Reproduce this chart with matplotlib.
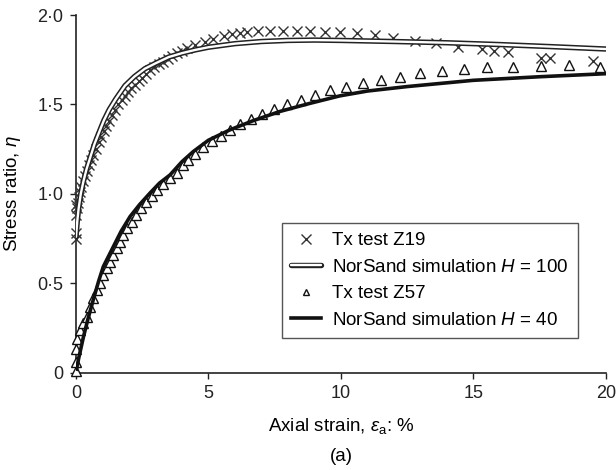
import matplotlib
matplotlib.use("Agg")
import matplotlib.pyplot as plt
from matplotlib.lines import Line2D
from matplotlib.legend_handler import HandlerTuple

plt.rcParams['font.family'] = ['Liberation Sans', 'DejaVu Sans']
plt.rcParams['mathtext.fontset'] = 'custom'
plt.rcParams['mathtext.rm'] = 'Liberation Sans'
plt.rcParams['mathtext.it'] = 'Liberation Sans:italic'

# Tx test Z19 (crosses)
z19_x = [0, 0, 0, 0, 0.03, 0.06, 0.1, 0.15, 0.2, 0.26, 0.33, 0.4, 0.48, 0.56,
         0.65, 0.75, 0.85, 0.95, 1.05, 1.15, 1.26, 1.37, 1.48, 1.6, 1.72, 1.84,
         1.96, 2.09, 2.22, 2.36, 2.5, 2.65, 2.8, 2.96, 3.12, 3.29, 3.46, 3.64,
         3.82, 4.0, 4.18, 4.49, 4.87, 5.19, 5.57, 5.88, 6.19, 6.44, 6.88, 7.32,
         7.82, 8.33, 8.83, 9.40, 9.96, 10.59, 11.28, 11.97, 12.79, 13.58, 14.43,
         15.31, 15.77, 16.31, 17.57, 17.89, 19.5]
z19_eta = [0.75, 0.78, 0.88, 0.94, 0.92, 0.95, 0.98, 1.01, 1.04, 1.07, 1.1, 1.13,
           1.16, 1.19, 1.22, 1.25, 1.29, 1.32, 1.35, 1.38, 1.41, 1.44, 1.47, 1.50,
           1.525, 1.55, 1.57, 1.59, 1.61, 1.63, 1.65, 1.67, 1.69, 1.71, 1.725,
           1.74, 1.755, 1.77, 1.785, 1.80, 1.815, 1.834, 1.852, 1.865, 1.884,
           1.893, 1.898, 1.905, 1.908, 1.908, 1.908, 1.908, 1.908, 1.906, 1.905,
           1.899, 1.886, 1.871, 1.856, 1.843, 1.824, 1.81, 1.80, 1.793, 1.759,
           1.759, 1.744]

# NorSand simulation H = 100
h100_x = [0, 0.05, 0.1, 0.18, 0.28, 0.4, 0.55, 0.7, 0.86, 1.05, 1.25, 1.5, 1.85,
          2.2, 2.6, 3.0, 3.5, 4.0, 4.5, 5, 6, 7, 8, 9, 10, 12, 14, 16, 18, 20]
h100_eta = [0.76, 0.85, 0.92, 1.0, 1.07, 1.14, 1.21, 1.28, 1.34, 1.41, 1.47,
            1.53, 1.605, 1.655, 1.70, 1.73, 1.765, 1.787, 1.805, 1.82, 1.84,
            1.852, 1.858, 1.86, 1.858, 1.852, 1.845, 1.835, 1.823, 1.81]

# Tx test Z57 (triangles)
z57_x = [0, 0, 0, 0.05, 0.15, 0.28, 0.4, 0.53, 0.65, 0.78, 0.91, 1.03, 1.16,
         1.28, 1.41, 1.53, 1.66, 1.79, 1.94, 2.1, 2.26, 2.44, 2.64, 2.86, 3.07,
         3.3, 3.55, 3.8, 4.05, 4.24, 4.49, 4.80, 5.12, 5.46, 5.81, 6.19, 6.60,
         7.03, 7.48, 7.95, 8.48, 9.02, 9.58, 10.19, 10.84, 11.5, 12.23, 12.98,
         13.8, 14.64, 15.5, 16.5, 17.54, 18.62, 19.8]
z57_eta = [0.01, 0.06, 0.13, 0.19, 0.24, 0.276, 0.313, 0.37, 0.416, 0.463, 0.5,
           0.547, 0.584, 0.621, 0.659, 0.696, 0.733, 0.77, 0.808, 0.845, 0.882,
           0.92, 0.957, 0.99, 1.022, 1.054, 1.088, 1.116, 1.16, 1.19, 1.225,
           1.261, 1.293, 1.326, 1.358, 1.39, 1.42, 1.448, 1.476, 1.504, 1.526,
           1.554, 1.58, 1.597, 1.619, 1.638, 1.656, 1.675, 1.688, 1.698, 1.707,
           1.712, 1.716, 1.718, 1.712]

# NorSand simulation H = 40
h40_x = [0.02, 0.1, 0.28, 0.45, 0.65, 0.85, 1.03, 1.41, 1.7, 2.04, 2.4, 2.79,
         3.15, 3.55, 4.0, 4.43, 5.0, 5.81, 6.7, 7.7, 8.8, 9.96, 11, 12.5, 15,
         17.5, 20]
h40_eta = [0.02, 0.08, 0.2, 0.3, 0.407, 0.51, 0.593, 0.705, 0.79, 0.873, 0.94,
           1.004, 1.06, 1.106, 1.18, 1.237, 1.30, 1.358, 1.41, 1.461, 1.505,
           1.548, 1.575, 1.60, 1.635, 1.655, 1.672]

xticks = [0, 5, 10, 15, 20]
yticks = [0, 0.5, 1.0, 1.5, 2.0]
ytick_labels = ['0', '0·5', '1·0', '1·5', '2·0']

fig = plt.figure(figsize=(6.16, 4.70), dpi=100)
ax = fig.add_axes([0.1234, 0.207, 0.860, 0.761])

ax.plot(z19_x, z19_eta, linestyle='none', marker='x', markersize=7,
        markeredgewidth=1.0, color='#333333', clip_on=False, zorder=3)
ax.plot(h100_x, h100_eta, color='#222222', linewidth=3.9,
        solid_capstyle='round', zorder=4)
ax.plot(h100_x, h100_eta, color='white', linewidth=1.7,
        solid_capstyle='round', zorder=5)
ax.plot(z57_x, z57_eta, linestyle='none', marker='^', markersize=6.5,
        markerfacecolor='white', markeredgecolor='#111111',
        markeredgewidth=1.0, clip_on=False, zorder=3)
ax.plot(h40_x, h40_eta, color='#111111', linewidth=2.6, zorder=4)

ax.set_xlim(0, 20)
ax.set_ylim(0, 2.0)
ax.set_xticks(xticks)
ax.set_yticks(yticks)
ax.set_yticklabels(ytick_labels)
ax.tick_params(direction='out', length=4, width=1, labelsize=13, pad=5,
               colors='#222222')
ax.spines['top'].set_visible(False)
ax.spines['right'].set_visible(False)
for s in ['left', 'bottom']:
    ax.spines[s].set_linewidth(1.2)
    ax.spines[s].set_color('#222222')

ax.set_ylabel(r'Stress ratio, $\it{\eta}$', fontsize=13.5)
ax.set_xlabel(r'Axial strain, $\varepsilon_\mathrm{a}$: %', fontsize=13.5)
ax.yaxis.set_label_coords(-0.100, 0.5)
ax.xaxis.set_label_coords(0.5, -0.122)
fig.text(0.554, 0.028, '(a)', fontsize=13.5, ha='center', va='center')

h_z19 = Line2D([], [], linestyle='none', marker='x', markersize=7,
               markeredgewidth=1.0, color='#333333')
h_100 = (Line2D([], [], color='#222222', linewidth=3.9, solid_capstyle='round'),
         Line2D([], [], color='white', linewidth=1.7, solid_capstyle='round'))
h_z57 = Line2D([], [], linestyle='none', marker='^', markersize=4.5,
               markerfacecolor='white', markeredgecolor='#111111',
               markeredgewidth=1.0)
h_40 = Line2D([], [], color='#111111', linewidth=2.6)
leg = ax.legend([h_z19, h_100, h_z57, h_40],
                ['Tx test Z19', r'NorSand simulation $\it{H}$ = 100',
                 'Tx test Z57', r'NorSand simulation $\it{H}$ = 40'],
                handler_map={tuple: HandlerTuple(ndivide=1)},
                loc='lower left', bbox_to_anchor=(0.389, 0.097),
                borderaxespad=0, fontsize=13.5, fancybox=False, framealpha=1,
                edgecolor='#555555', handlelength=1.6, handletextpad=0.55,
                labelspacing=0.5, borderpad=0.5)
leg.get_frame().set_linewidth(1.0)

fig.savefig('out.png', dpi=100)
